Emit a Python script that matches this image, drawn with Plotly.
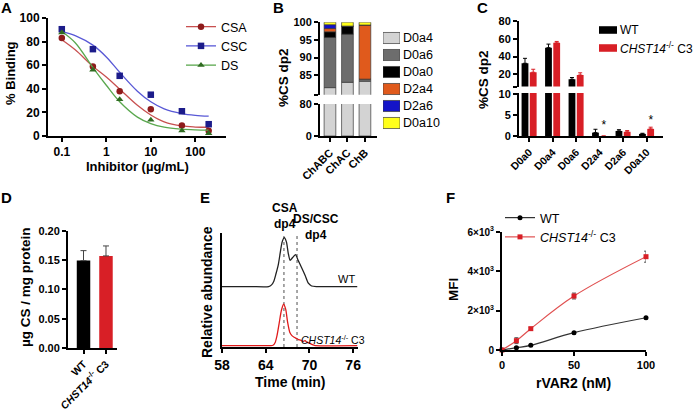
import plotly.graph_objects as go

W, H = 697, 412
FONT = "Liberation Sans, Arial, Helvetica, sans-serif"


def px_x(p):
    return p / W


def px_y(p):
    return 1 - p / H


# ---------------- DATA ----------------
# Panel A
inhib_conc = [0.1, 0.5, 2, 10, 50, 200]
csa_binding = [83, 59, 38, 22.7, 9, 4.5]
csc_binding = [90.5, 73.6, 51, 35, 21, 10]
ds_binding = [87.6, 56, 31, 13.6, 4.5, 2.3]
fit_conc = [0.1, 0.2, 0.5, 1, 2, 5, 10, 20, 50, 100, 200]
csa_fit = [81.5, 73, 59, 50, 39.7, 26, 17.8, 12, 8.5, 7.6, 7.4]
csc_fit = [88.7, 85, 77, 67, 54, 38, 29, 23, 19, 17.5, 16.8]
ds_fit = [88.5, 79, 58, 43, 29, 16, 10.5, 7.5, 5.8, 5.2, 5.0]

# Panel B
enzymes = ["ChABC", "ChAC", "ChB"]
b_components = ["D0a4", "D0a6", "D0a0", "D2a4", "D2a6", "D0a10"]
b_values = {
    "D0a4": [81.5, 83.0, 83.3],
    "D0a6": [14.2, 13.6, 0.6],
    "D0a0": [1.6, 2.3, 0.0],
    "D2a4": [0.9, 0.0, 15.3],
    "D2a6": [1.1, 0.0, 0.0],
    "D0a10": [0.7, 1.1, 0.8],
}

# Panel C
c_categories = ["D0a0", "D0a4", "D0a6", "D2a4", "D2a6", "D0a10"]
c_series = ["WT", "<i>CHST14</i><sup>-/-</sup> C3"]
c_wt = [32.4, 50, 14.4, 0.8, 1.2, 0.5]
c_wt_err = [5.6, 4, 2, 0.8, 0.3, 0.15]
c_ko = [22.3, 55.4, 19.2, 0.0, 1.0, 1.7]
c_ko_err = [3.4, 1.6, 2.5, 0.0, 0.3, 0.4]
c_sig_index = [3, 5]
c_sig_height = [2.4, 3.6]

# Panel D
d_groups = ["WT", "<i>CHST14</i><sup>-/-</sup> C3"]
d_values = [0.149, 0.157]
d_err = [0.017, 0.017]

# Panel E
e_time_wt = [58.0, 62.0, 64.4, 64.8, 65.1, 65.4, 65.75, 66.0, 66.25, 66.55, 66.85, 67.1,
             67.35, 67.7, 68.1, 68.45, 68.9, 69.4, 69.85, 70.3, 71.0, 76.6]
e_wt = [0.53, 0.53, 0.53, 0.545, 0.575, 0.64, 0.73, 0.83, 0.92, 0.96, 0.92, 0.82,
        0.76, 0.785, 0.81, 0.76, 0.70, 0.63, 0.56, 0.535, 0.53, 0.53]
e_time_ko = [58.0, 63.0, 65.0, 65.3, 65.55, 65.85, 66.15, 66.45, 66.75, 67.0, 67.3, 67.6,
             67.9, 68.2, 68.5, 68.8, 69.1, 69.4, 69.7, 70.0, 70.4, 70.8, 76.6]
e_ko = [0.012, 0.012, 0.015, 0.04, 0.10, 0.21, 0.32, 0.375, 0.33, 0.22, 0.13, 0.10,
        0.085, 0.075, 0.065, 0.06, 0.05, 0.055, 0.04, 0.035, 0.02, 0.013, 0.012]
e_peak_times = [66.5, 68.3]
e_peak_labels = ["CSA<br>dp4", "DS/CSC<br>dp4"]

# Panel F
f_conc = [0, 10, 20, 50, 100]
f_wt = [0, 118, 237, 880, 1640]
f_wt_err = [0, 40, 40, 60, 50]
f_ko = [0, 475, 1085, 2745, 4745]
f_ko_err = [0, 150, 60, 150, 280]

# ---------------- STYLE ----------------
RED = "#d81f26"
b_colors = {"D0a4": "#d3d3d3", "D0a6": "#6d6d6d", "D0a0": "#000000",
            "D2a4": "#e05a1c", "D2a6": "#1414c8", "D0a10": "#ffff1a"}

fig = go.Figure()

# ---- Panel A ----
a_series = [
    ("CSA", csa_binding, csa_fit, "#8e1b1b", "#c85050", "circle"),
    ("CSC", csc_binding, csc_fit, "#1c1c8a", "#5858d6", "square"),
    ("DS", ds_binding, ds_fit, "#2f6b21", "#5aa84e", "triangle-up"),
]
for name, pts, fit, mcol, lcol, sym in a_series:
    fig.add_trace(go.Scatter(x=fit_conc, y=fit, mode="lines", line=dict(color=lcol, width=1.3, shape="spline"),
                             xaxis="x", yaxis="y", showlegend=False, hoverinfo="skip"))
    fig.add_trace(go.Scatter(x=inhib_conc, y=pts, mode="markers", marker=dict(color=mcol, size=6.5, symbol=sym),
                             xaxis="x", yaxis="y", showlegend=False, cliponaxis=False))
    fig.add_trace(go.Scatter(x=[None], y=[None], mode="lines+markers", name=name,
                             line=dict(color=lcol, width=1.3), marker=dict(color=mcol, size=6.5, symbol=sym),
                             xaxis="x", yaxis="y", legend="legend"))

# ---- Panel B ----
b_x = list(range(len(enzymes)))
cum = [0.0] * len(enzymes)
for comp in b_components:
    vals = b_values[comp]
    base = list(cum)
    for ya in ("y2", "y3"):
        fig.add_trace(go.Bar(x=b_x, y=vals, base=base, width=0.67, name=comp,
                             marker=dict(color=b_colors[comp], line=dict(color="#3a3a3a", width=0.7)),
                             xaxis="x2", yaxis=ya, showlegend=False))
    cum = [c + v for c, v in zip(cum, vals)]
# legend of panel B as swatches
fig.add_trace(go.Bar(y=list(range(len(b_components))), x=[1] * len(b_components), orientation="h", width=0.65,
                     marker=dict(color=[b_colors[c] for c in b_components], line=dict(color="#3a3a3a", width=0.7)),
                     text=b_components, textposition="outside", cliponaxis=False, constraintext="none",
                     outsidetextfont=dict(family=FONT, size=12.5, color="black"),
                     xaxis="x7", yaxis="y9", showlegend=False, hoverinfo="skip"))

# ---- Panel C ----
c_x = list(range(len(c_categories)))
for ya in ("y4", "y5"):
    fig.add_trace(go.Bar(x=c_x, y=c_wt, width=0.29, offset=-0.32, name=c_series[0],
                         marker=dict(color="black", line=dict(width=0)),
                         error_y=dict(type="data", array=c_wt_err, arrayminus=[0] * 6, symmetric=False,
                                      color="black", thickness=1, width=2),
                         xaxis="x3", yaxis=ya, showlegend=False))
    fig.add_trace(go.Bar(x=c_x, y=c_ko, width=0.29, offset=0.03, name=c_series[1],
                         marker=dict(color=RED, line=dict(width=0)),
                         error_y=dict(type="data", array=c_ko_err, arrayminus=[0] * 6, symmetric=False,
                                      color=RED, thickness=1, width=2),
                         xaxis="x3", yaxis=ya, showlegend=False))
fig.add_trace(go.Scatter(x=[i + 0.18 for i in c_sig_index], y=c_sig_height, mode="text", text=["*"] * len(c_sig_index),
                         textfont=dict(family=FONT, size=12, color="black"), xaxis="x3", yaxis="y5",
                         showlegend=False, cliponaxis=False))
fig.add_trace(go.Bar(y=[0, 1], x=[1, 1], orientation="h", width=0.42,
                     marker=dict(color=["black", RED], line=dict(width=0)),
                     text=c_series, textposition="outside", cliponaxis=False, constraintext="none",
                     outsidetextfont=dict(family=FONT, size=12, color="black"),
                     xaxis="x8", yaxis="y10", showlegend=False, hoverinfo="skip"))

# ---- Panel D ----
fig.add_trace(go.Bar(x=[0, 1], y=d_values, width=0.6, marker=dict(color=["black", RED], line=dict(width=0)),
                     error_y=dict(type="data", array=d_err, arrayminus=[0, 0], symmetric=False,
                                  color="#444", thickness=1, width=3),
                     xaxis="x4", yaxis="y6", showlegend=False))

# ---- Panel E ----
fig.add_trace(go.Scatter(x=e_time_wt, y=e_wt, mode="lines", line=dict(color="#222", width=1.3, shape="spline", smoothing=0.6),
                         xaxis="x5", yaxis="y7", showlegend=False))
fig.add_trace(go.Scatter(x=e_time_ko, y=e_ko, mode="lines", line=dict(color="#e01b1b", width=1.3, shape="spline", smoothing=0.6),
                         xaxis="x5", yaxis="y7", showlegend=False))
for t in e_peak_times:
    fig.add_shape(type="line", x0=t, x1=t, y0=0, y1=1.0, xref="x5", yref="y7",
                  line=dict(color="#8a8a8a", width=1.5, dash="dot"), layer="below")

# ---- Panel F ----
fig.add_trace(go.Scatter(x=f_conc, y=f_wt, mode="lines+markers", line=dict(color="#333", width=1.2, shape="spline"),
                         marker=dict(color="black", size=5, symbol="circle"),
                         error_y=dict(type="data", array=f_wt_err, color="#333", thickness=1, width=2),
                         xaxis="x6", yaxis="y8", showlegend=False, cliponaxis=False))
fig.add_trace(go.Scatter(x=f_conc, y=f_ko, mode="lines+markers", line=dict(color="#e05050", width=1.2, shape="spline"),
                         marker=dict(color=RED, size=5, symbol="square"),
                         error_y=dict(type="data", array=f_ko_err, color="#555", thickness=1, width=2),
                         xaxis="x6", yaxis="y8", showlegend=False, cliponaxis=False))
fig.add_trace(go.Scatter(x=[None], y=[None], mode="lines+markers", name="WT",
                         line=dict(color="#333", width=1.2), marker=dict(color="black", size=5),
                         xaxis="x6", yaxis="y8", legend="legend4"))
fig.add_trace(go.Scatter(x=[None], y=[None], mode="lines+markers", name="<i>CHST14</i><sup>-/-</sup> C3",
                         line=dict(color="#e05050", width=1.2), marker=dict(color=RED, size=5, symbol="square"),
                         xaxis="x6", yaxis="y8", legend="legend4"))


# ---------------- LAYOUT ----------------
def ax(size=11, **kw):
    d = dict(showline=True, linecolor="black", linewidth=2, ticks="outside", ticklen=4, tickwidth=1.5,
             tickcolor="black", showgrid=False, zeroline=False, fixedrange=True,
             tickfont=dict(family=FONT, size=size, color="black", weight="bold"))
    d.update(kw)
    return d


hidden = dict(visible=False, fixedrange=True, showgrid=False, zeroline=False)

layout = dict(
    width=W, height=H, margin=dict(l=0, r=0, t=0, b=0, autoexpand=False),
    paper_bgcolor="white", plot_bgcolor="white", barmode="overlay",
    font=dict(family=FONT, color="black"),
    # A
    xaxis=ax(12, domain=[px_x(48), px_x(226)], anchor="y", type="log", range=[-1.31, 2.69],
             tickvals=[0.1, 1, 10, 100], ticktext=["0.1", "1", "10", "100"]),
    yaxis=ax(12, domain=[px_y(136), px_y(18)], anchor="x", range=[0, 100], tickvals=[0, 20, 40, 60, 80, 100]),
    # B
    xaxis2=ax(11, domain=[px_x(320), px_x(377)], anchor="y3", range=[-0.57, 2.69],
              tickvals=b_x, ticktext=enzymes, tickangle=-45),
    yaxis2=ax(11, domain=[px_y(94.7), px_y(22.2)], anchor="x2", range=[79.5, 100],
              tickvals=[79.5, 85, 90, 95, 100], ticktext=[" ", "85", "90", "95", "100"]),
    yaxis3=ax(11, domain=[px_y(136), px_y(104)], anchor="x2", range=[0, 80], tickvals=[0, 80]),
    xaxis7=dict(hidden, domain=[px_x(383), px_x(400)], anchor="y9", range=[0, 1]),
    yaxis9=dict(hidden, domain=[px_y(131.5), px_y(29.5)], anchor="x7", range=[5.5, -0.5]),
    # C
    xaxis3=ax(10.5, domain=[px_x(519), px_x(663)], anchor="y5", range=[-0.43, 5.7],
              tickvals=c_x, ticktext=c_categories, tickangle=-45),
    yaxis4=ax(11, domain=[px_y(86.5), px_y(21)], anchor="x3", range=[6.3, 80],
              tickvals=[6.3, 20, 40, 60, 80], ticktext=[" ", "20", "40", "60", "80"]),
    yaxis5=ax(11, domain=[px_y(136), px_y(93)], anchor="x3", range=[0, 10.24], tickvals=[0, 5, 10]),
    xaxis8=dict(hidden, domain=[px_x(599), px_x(617)], anchor="y10", range=[0, 1]),
    yaxis10=dict(hidden, domain=[px_y(57), px_y(21)], anchor="x8", range=[1.5, -0.5]),
    # D
    xaxis4=ax(10.5, domain=[px_x(68), px_x(117)], anchor="y6", range=[-0.69, 1.49],
              tickvals=[0, 1], ticktext=d_groups, tickangle=-45),
    yaxis6=ax(11, domain=[px_y(348), px_y(230.7)], anchor="x4", range=[0, 0.2],
              tickvals=[0, 0.05, 0.1, 0.15, 0.2], ticktext=["0.00", "0.05", "0.10", "0.15", "0.20"]),
    # E
    xaxis5=ax(14, domain=[px_x(222), px_x(357.5)], anchor="y7", range=[58, 76.6], tickvals=[58, 64, 70, 76]),
    yaxis7=ax(11, domain=[px_y(347), px_y(233)], anchor="x5", range=[0, 1], ticks="", showticklabels=False),
    # F
    xaxis6=ax(11, domain=[px_x(502), px_x(646)], anchor="y8", range=[0, 100], tickvals=[0, 50, 100]),
    yaxis8=ax(10, domain=[px_y(350), px_y(232)], anchor="x6", range=[0, 6000], tickvals=[0, 2000, 4000, 6000],
              ticktext=["0", "2×10<sup>3</sup>", "4×10<sup>3</sup>", "6×10<sup>3</sup>"]),
    legend=dict(x=px_x(181), y=px_y(12), xanchor="left", yanchor="top", bgcolor="rgba(0,0,0,0)",
                font=dict(family=FONT, size=12.5)),
    legend4=dict(x=px_x(500), y=px_y(203), xanchor="left", yanchor="top", bgcolor="rgba(0,0,0,0)",
                 font=dict(family=FONT, size=12.5)),
)
fig.update_layout(**layout)

annots = []


def label(text, x, y, size=13, angle=0, bold=True, xanchor="center"):
    annots.append(dict(text=text, x=px_x(x), y=px_y(y), xref="paper", yref="paper", showarrow=False,
                       xanchor=xanchor, yanchor="middle", textangle=angle,
                       font=dict(family=FONT, size=size, color="black", weight="bold" if bold else "normal")))


# panel letters
for t, x, y in [("A", 7, 8), ("B", 278, 8), ("C", 482, 8), ("D", 6, 197), ("E", 205, 197), ("F", 450, 197)]:
    label(t, x, y, size=15)
# axis titles
label("% Binding", 10, 73, size=13, angle=-90)
label("Inhibitor (µg/mL)", 137, 167, size=13)
label("%CS dp2", 283, 78, size=13.5, angle=-90)
label("%CS dp2", 483, 80, size=13.5, angle=-90)
label("µg CS / mg protein", 25, 287, size=13.5, angle=-90)
label("Relative abundance", 207, 292, size=14, angle=-90)
label("Time (min)", 290, 382, size=14)
label("MFI", 453, 290, size=13.5, angle=-90)
label("rVAR2 (nM)", 573, 383, size=14)
# panel E text
label(e_peak_labels[0], 285, 216, size=12)
label(e_peak_labels[1], 316, 227, size=12)
label("WT", 357, 279, size=11, bold=False, xanchor="right")
annots.append(dict(text="<i>CHST14</i><sup>-/-</sup> C3", x=px_x(367), y=px_y(339), xref="paper", yref="paper",
                   showarrow=False, xanchor="right", yanchor="middle",
                   font=dict(family=FONT, size=10.5, color="black")))
fig.update_layout(annotations=annots)

fig.write_html("out.html", config={"displayModeBar": False},
               post_script="document.body.style.margin='0px';document.body.style.overflow='hidden';")
